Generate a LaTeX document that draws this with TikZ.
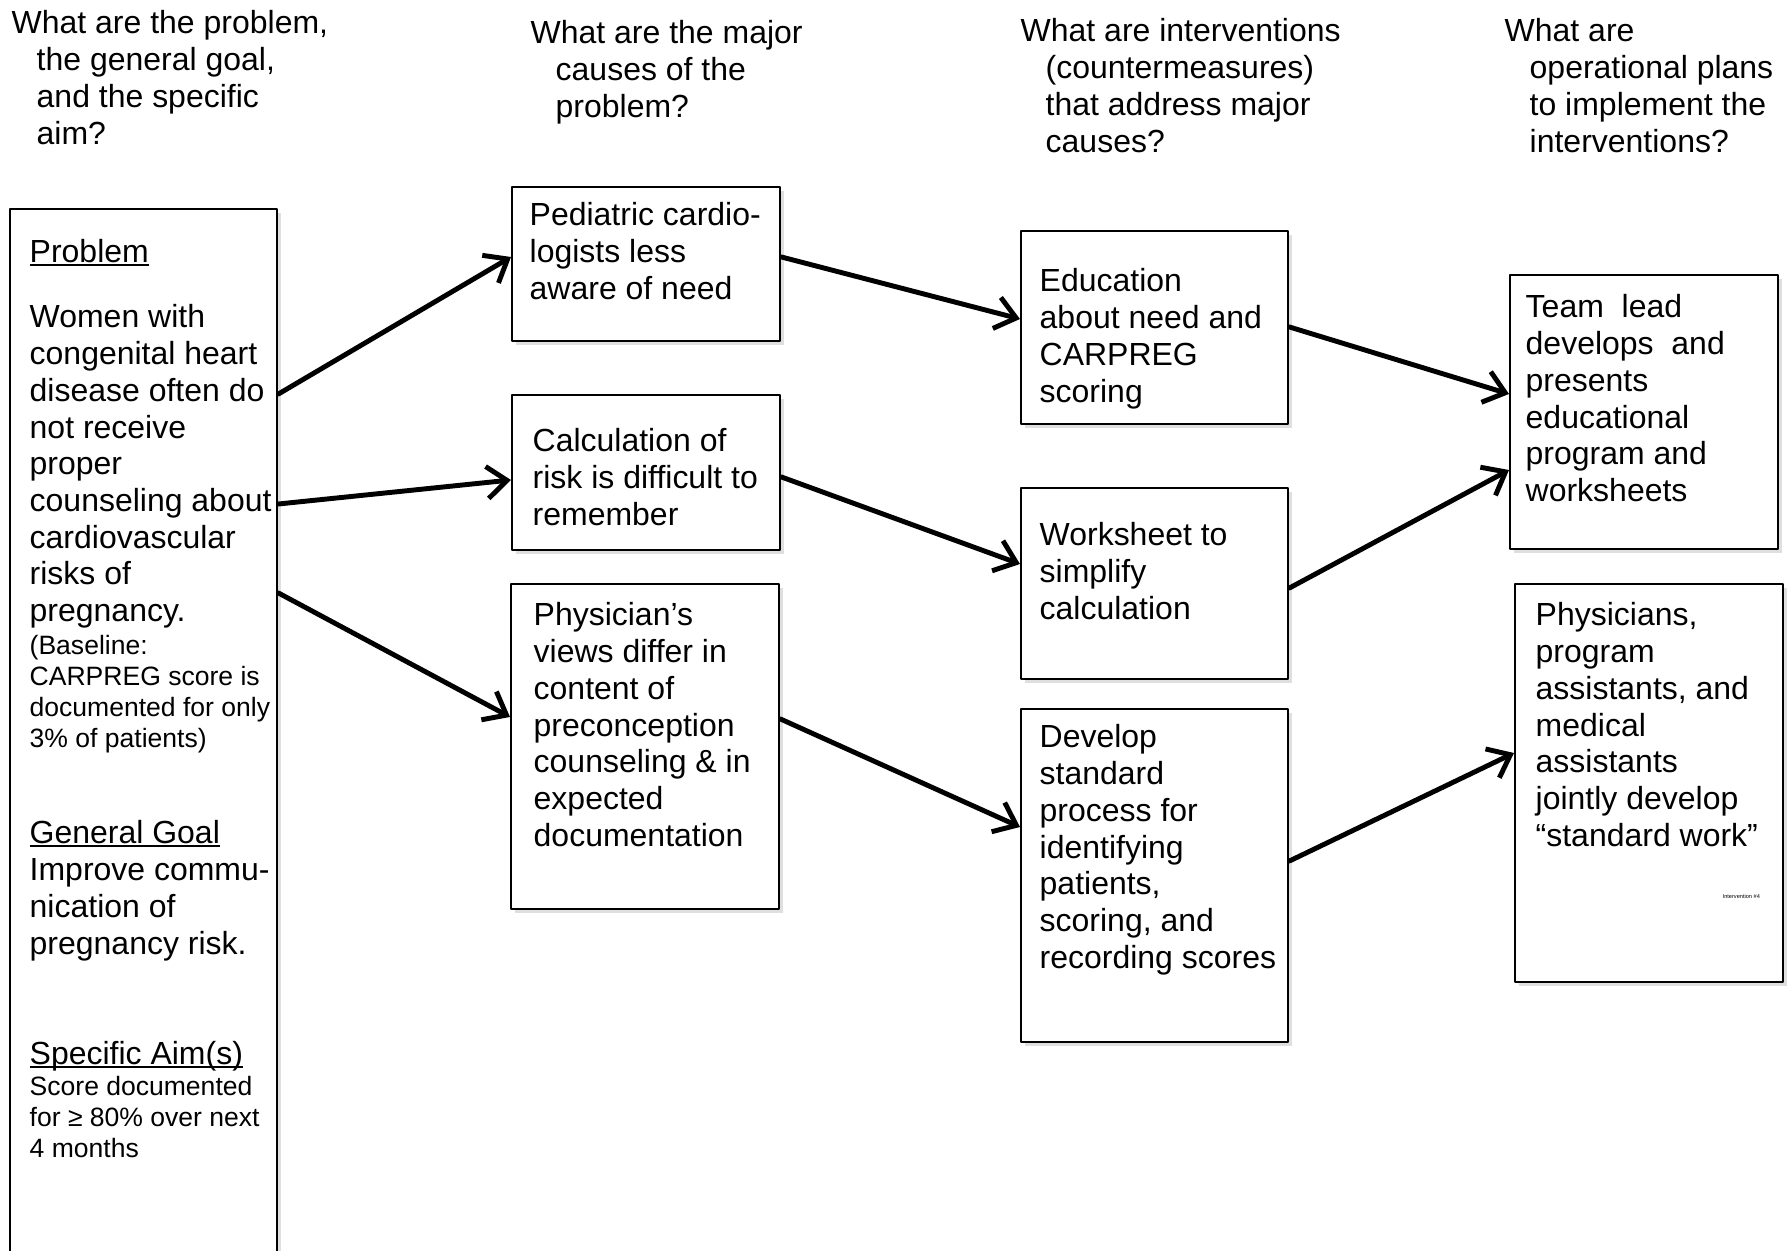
\documentclass[tikz,border=0pt]{standalone}
\usepackage{fontspec}
\setmainfont{Liberation Sans}
\usetikzlibrary{calc,arrows.meta,shadows}
\newcommand{\bigtxt}{\fontsize{9.1}{10.45}\selectfont}
\newcommand{\smalltxt}{\fontsize{7.55}{8.75}\selectfont}
\newcommand{\ind}{\hspace*{0.25cm}}
\newcommand{\uln}[1]{\setbox0\hbox{#1}\rlap{\rule[-0.11em]{\wd0}{0.07em}}\box0}

\begin{document}
\begin{tikzpicture}[line cap=round,line join=round,x=1.0cm,y=1.0cm,
	box/.style={draw,line width=0.7pt,inner sep=0pt,anchor=north west,minimum width=2.68cm,fill=white,
		drop shadow={shadow xshift=0.04cm,shadow yshift=-0.04cm,opacity=0.25}},
	txt/.style={anchor=north west,inner sep=0pt,align=left,font=\bigtxt},
	smalltext/.style={txt,font=\smalltxt},
	arr/.style={-{Straight Barb[length=2mm,width=3.2mm]},line width=1.4pt}]
	\useasboundingbox (0,0) rectangle (17.89,-12.51);
	\clip (0,0) rectangle (17.89,-12.51);
	\node[txt] (q1) at (0.11,-0.10) {What are the problem,\\\ind the general goal,\\\ind and the specific\\\ind aim?};
	\node[txt] (q2) at (5.30,-0.20) {What are the major\\\ind causes of the\\\ind problem?};
	\node[txt] (q3) at (10.20,-0.18) {What are interventions\\\ind (countermeasures)\\\ind that address major\\\ind causes?};
	\node[txt] (q4) at (15.04,-0.18) {What are\\\ind operational plans\\\ind to implement the\\\ind interventions?};
	\node[box,minimum width=2.67cm,minimum height=10.6cm] (lft) at (0.09,-2.08) {};
	\node[box,minimum height=1.54cm] (cs1) at (5.11,-1.86) {};
	\node[box,minimum height=1.55cm] (cs2) at (5.11,-3.94) {};
	\node[box,minimum height=3.25cm] (cs3) at (5.10,-5.83) {};
	\node[box,minimum width=2.67cm,minimum height=1.93cm] (iv1) at (10.20,-2.30) {};
	\node[box,minimum width=2.67cm,minimum height=1.91cm] (iv2) at (10.20,-4.87) {};
	\node[box,minimum width=2.67cm,minimum height=3.33cm] (iv3) at (10.20,-7.08) {};
	\node[box,minimum height=2.74cm] (pl1) at (15.09,-2.74) {};
	\node[box,minimum height=3.98cm] (pl2) at (15.14,-5.83) {};
	\node[txt] (prb) at ($(lft.north west)+(0.20,-0.31)$) {\uln{Problem}};
	\node[txt] (prbtxt) at ($(lft.north west)+(0.20,-0.96)$) {Women with\\congenital heart\\disease often do\\not receive\\proper\\counseling about\\cardiovascular\\risks of\\pregnancy.};
	\node[smalltext] (base) at ($(lft.north west)+(0.20,-4.27)$) {(Baseline:\\CARPREG score is\\documented for only\\3\% of patients)};
	\node[txt] (goal) at ($(lft.north west)+(0.20,-6.12)$) {\uln{General Goal}\\Improve commu-\\nication of\\pregnancy risk.};
	\node[txt] (aimhd) at ($(lft.north west)+(0.20,-8.33)$) {\uln{Specific Aim(s)}};
	\node[smalltext] (aim) at ($(lft.north west)+(0.20,-8.68)$) {Score documented\\for ≥ 80\% over next\\4 months};
	\node[txt] (cs1txt) at ($(cs1.north west)+(0.18,-0.16)$) {Pediatric cardio-\\logists less\\aware of need};
	\node[txt] (cs2txt) at ($(cs2.north west)+(0.21,-0.34)$) {Calculation of\\risk is difficult to\\remember};
	\node[txt] (cs3txt) at ($(cs3.north west)+(0.23,-0.19)$) {Physician’s\\views differ in\\content of\\preconception\\counseling \& in\\expected\\documentation};
	\node[txt] (iv1txt) at ($(iv1.north west)+(0.19,-0.38)$) {Education\\about need and\\CARPREG\\scoring};
	\node[txt] (iv2txt) at ($(iv2.north west)+(0.19,-0.35)$) {Worksheet to\\simplify\\calculation};
	\node[txt] (iv3txt) at ($(iv3.north west)+(0.19,-0.16)$) {Develop\\standard\\process for\\identifying\\patients,\\scoring, and\\recording scores};
	\node[txt] (pl1txt) at ($(pl1.north west)+(0.16,-0.20)$) {Team\ \ lead\\develops\ \ and\\presents\\educational\\program and\\worksheets};
	\node[txt] (pl2txt) at ($(pl2.north west)+(0.21,-0.19)$) {Physicians,\\program\\assistants, and\\medical\\assistants\\jointly develop\\“standard work”};
	\node[txt,anchor=base west,font=\fontsize{1.6}{2}\selectfont] (pl2tag) at ($(pl2.north west)+(2.08,-3.16)$) {Intervention \#4};
	\draw[arr] ($(lft.north east)+(0,-1.86)$) -- ($(cs1.north west)+(0,-0.71)$);
	\draw[arr] ($(lft.north east)+(0,-2.96)$) -- ($(cs2.north west)+(0,-0.86)$);
	\draw[arr] ($(lft.north east)+(0,-3.85)$) -- ($(cs3.north west)+(0,-1.34)$);
	\draw[arr] ($(cs1.north east)+(0,-0.71)$) -- ($(iv1.north west)+(0,-0.89)$);
	\draw[arr] ($(cs2.north east)+(0,-0.83)$) -- ($(iv2.north west)+(0,-0.77)$);
	\draw[arr] ($(cs3.north east)+(0,-1.36)$) -- ($(iv3.north west)+(0,-1.19)$);
	\draw[arr] ($(iv1.north east)+(0,-0.97)$) -- ($(pl1.north west)+(0,-1.20)$);
	\draw[arr] ($(iv2.north east)+(0,-1.01)$) -- ($(pl1.north west)+(0,-1.96)$);
	\draw[arr] ($(iv3.north east)+(0,-1.53)$) -- ($(pl2.north west)+(0,-1.70)$);
\end{tikzpicture}
\end{document}
